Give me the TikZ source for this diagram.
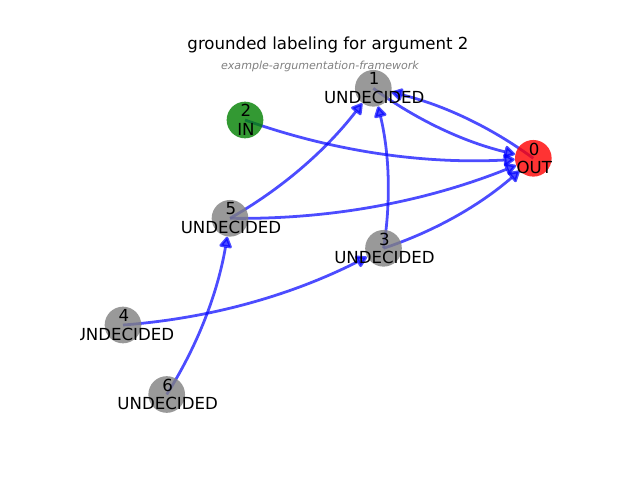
\documentclass[tikz,border=0pt]{standalone}
\usepackage{fontspec}
\setmainfont{DejaVu Sans}
\usetikzlibrary{arrows.meta,backgrounds}

\definecolor{nxgray}{RGB}{128,128,128}
\definecolor{nxred}{RGB}{255,0,0}
\definecolor{nxgreen}{RGB}{0,128,0}
\definecolor{nxblue}{RGB}{0,0,255}
\definecolor{subgray}{RGB}{128,128,128}

\tikzset{
  argnode/.style={circle, minimum size=26.4bp, inner sep=0pt, draw=none, fill opacity=0.8},
  undec/.style={argnode, fill=nxgray},
  outnode/.style={argnode, fill=nxred},
  innode/.style={argnode, fill=nxgreen},
  lbl/.style={align=center, inner sep=0pt, text=black, font=\fontsize{12}{13.5}\selectfont},
  titletext/.style={anchor=base, inner sep=0pt, font=\fontsize{12}{14}\selectfont},
  subtext/.style={anchor=base, inner sep=0pt, text=subgray, font=\fontsize{8}{10}\itshape},
  attack/.style={draw=nxblue, opacity=0.7, line width=2bp,
    -{Triangle[length=9bp,width=10bp,round]}, bend right=11.3, looseness=0.87}
}

\begin{document}
\begin{tikzpicture}[x=0.72bp,y=-0.72bp]
\useasboundingbox (0,0) rectangle (640,480);

% heading
\node[titletext] (title) at (328,49.5) {grounded labeling for argument 2};
\node[subtext] (subtitle) at (320,70) {example-argumentation-framework};

% arguments, clipped to the plotting area
\begin{scope}
  \clip (80,57.6) rectangle (576,427.2);
  \node[outnode] (n0) at (533.3,158.3) {};
  \node[undec]   (n1) at (373.3,88.3) {};
  \node[innode]  (n2) at (245,120) {};
  \node[undec]   (n3) at (383.5,248.3) {};
  \node[undec]   (n4) at (123,325) {};
  \node[undec]   (n5) at (230,218.3) {};
  \node[undec]   (n6) at (166.7,394.5) {};

  \node[lbl] (t0) at ([xshift=0.7]n0) {0\\OUT};
  \node[lbl] (t1) at ([xshift=0.7]n1) {1\\UNDECIDED};
  \node[lbl] (t2) at ([xshift=0.7]n2) {2\\IN};
  \node[lbl] (t3) at ([xshift=0.7]n3) {3\\UNDECIDED};
  \node[lbl] (t4) at ([xshift=0.7]n4) {4\\UNDECIDED};
  \node[lbl] (t5) at ([xshift=0.7]n5) {5\\UNDECIDED};
  \node[lbl] (t6) at ([xshift=0.7]n6) {6\\UNDECIDED};
\end{scope}

% attacks
\begin{scope}[on background layer]
  \draw[attack] (n2.center) to (n0);
  \draw[attack] (n1.center) to (n0);
  \draw[attack] (n0.center) to (n1);
  \draw[attack] (n5.center) to (n1);
  \draw[attack] (n5.center) to (n0);
  \draw[attack] (n3.center) to (n1);
  \draw[attack] (n3.center) to (n0);
  \draw[attack] (n4.center) to (n3);
  \draw[attack] (n6.center) to (n5);
\end{scope}
\end{tikzpicture}
\end{document}
